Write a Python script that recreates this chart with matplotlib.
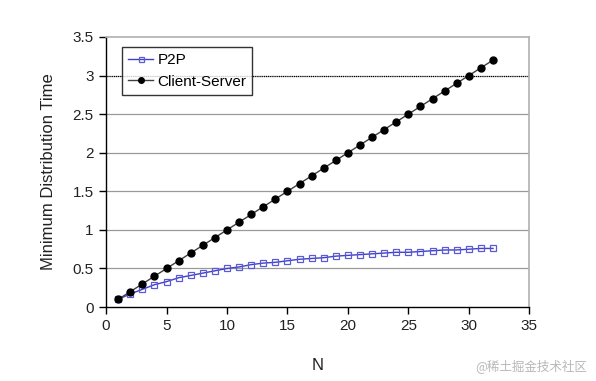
import matplotlib.pyplot as plt

plt.rcParams['font.family'] = ['Liberation Sans', 'DejaVu Sans']

n_values = list(range(1, 33))
p2p_time = [0.10, 0.17, 0.23, 0.29, 0.33, 0.38, 0.41, 0.44, 0.47, 0.50,
            0.52, 0.55, 0.57, 0.58, 0.60, 0.62, 0.63, 0.64, 0.66, 0.67,
            0.68, 0.69, 0.70, 0.71, 0.71, 0.72, 0.73, 0.74, 0.74, 0.75,
            0.76, 0.76]
cs_time = [0.1, 0.2, 0.3, 0.4, 0.5, 0.6, 0.7, 0.8, 0.9, 1.0,
           1.1, 1.2, 1.3, 1.4, 1.5, 1.6, 1.7, 1.8, 1.9, 2.0,
           2.1, 2.2, 2.3, 2.4, 2.5, 2.6, 2.7, 2.8, 2.9, 3.0,
           3.1, 3.2]
y_ticks = [0, 0.5, 1, 1.5, 2, 2.5, 3, 3.5]
x_ticks = [0, 5, 10, 15, 20, 25, 30, 35]

fig = plt.figure(figsize=(5.96, 3.81), dpi=100)
ax = fig.add_axes([0.178, 0.194, 0.71, 0.709])

# gridlines (the 3.0 one is highlighted in the original)
for y in y_ticks[1:-1]:
    if y == 3:
        ax.axhline(y, color='black', lw=0.9, ls=(0, (1, 0.5)), zorder=1)
    else:
        ax.axhline(y, color='#9a9a9a', lw=0.9, zorder=1)

ax.plot(n_values, p2p_time, color='#4040c8', lw=1.0, marker='s', ms=4.5,
        mfc='none', mec='#5a5ad8', mew=0.9, label='P2P', zorder=3)
ax.plot(n_values, cs_time, color='#404040', lw=1.0, marker='o', ms=5,
        mfc='black', mec='black', label='Client-Server', zorder=4)

ax.set_xlim(0, 35)
ax.set_ylim(0, 3.5)
ax.set_xticks(x_ticks)
ax.set_yticks(y_ticks)
ax.set_yticklabels(['0', '0.5', '1', '1.5', '2', '2.5', '3', '3.5'])
ax.tick_params(direction='out', length=5, width=1, labelsize=11,
               colors='black', labelcolor='#222222')
ax.tick_params(axis='y', pad=4)

for side in ['top', 'right']:
    ax.spines[side].set_color('#b0b0b0')
    ax.spines[side].set_linewidth(1.2)
for side in ['left', 'bottom']:
    ax.spines[side].set_color('black')
    ax.spines[side].set_linewidth(1.0)

ax.set_xlabel('N', fontsize=12, labelpad=18, color='#222222')
ax.set_ylabel('Minimum Distribution Time', fontsize=12, labelpad=12,
              color='#222222')

leg = ax.legend(loc='upper left', bbox_to_anchor=(0.038, 0.963), fontsize=11,
                frameon=True, fancybox=False, borderpad=0.4, handlelength=1.6,
                handletextpad=0.3, labelspacing=0.5, borderaxespad=0,
                markerscale=0.8)
leg.get_frame().set_edgecolor('black')
leg.get_frame().set_linewidth(1.0)

fig.text(0.985, 0.04, '@稀土掘金技术社区', ha='right', va='center', fontsize=9,
         color='#b8b8b8', family=['Noto Sans CJK SC', 'DejaVu Sans'])

fig.savefig('out.png', dpi=100)
